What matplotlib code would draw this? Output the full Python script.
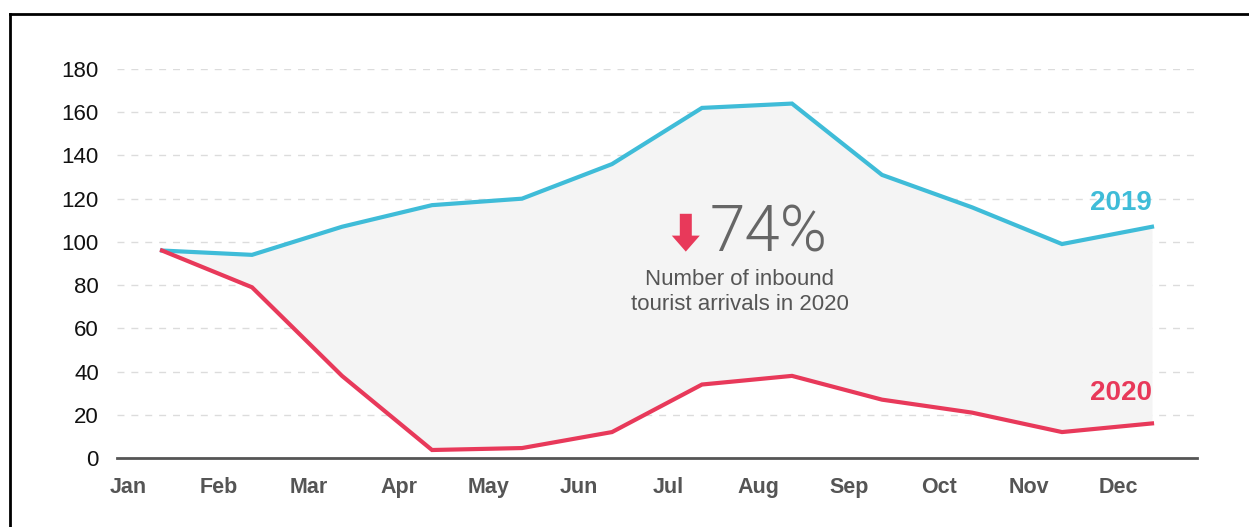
import numpy as np
import matplotlib.pyplot as plt
from matplotlib.lines import Line2D

# Monthly inbound tourist arrivals (index values)
months = ['Jan', 'Feb', 'Mar', 'Apr', 'May', 'Jun',
          'Jul', 'Aug', 'Sep', 'Oct', 'Nov', 'Dec']
arrivals_2019 = [96, 94, 107, 117, 120, 136, 162, 164, 131, 116, 99, 107]
arrivals_2020 = [96, 79, 38, 3.7, 4.6, 12, 34, 38, 27, 21, 12, 16]
y_ticks = [0, 20, 40, 60, 80, 100, 120, 140, 160, 180]
drop_pct = 74

blue = '#3fbcd8'
red = '#e8395a'
grey_text = '#555555'

plt.rcParams['font.family'] = ['Liberation Sans', 'DejaVu Sans']

fig = plt.figure(figsize=(12.49, 5.27), dpi=100)
ax = fig.add_axes([117 / 1249, 69 / 527, 1080 / 1249, 389 / 527])

x = np.arange(len(months))

ax.fill_between(x, arrivals_2020, arrivals_2019, color='#f4f4f4', lw=0, zorder=1)
ax.plot(x, arrivals_2019, color=blue, lw=3, solid_joinstyle='miter', zorder=3, clip_on=False)
ax.plot(x, arrivals_2020, color=red, lw=3, solid_joinstyle='miter', zorder=3, clip_on=False)

ax.set_xlim(-0.5, 11.5)
ax.set_ylim(0, 180)

# dashed horizontal gridlines
for v in y_ticks[1:]:
    ax.axhline(v, color='#dcdcdc', lw=1, ls=(0, (5, 5)), zorder=0)

ax.set_yticks(y_ticks)
ax.set_yticklabels([str(v) for v in y_ticks], fontsize=16, color='#111111')
ax.set_xticks(x - 0.37)
ax.set_xticklabels(months, fontsize=15.5, color=grey_text, fontweight='bold')
ax.tick_params(axis='both', length=0)
ax.tick_params(axis='y', pad=13)
ax.tick_params(axis='x', pad=14)

for side in ['top', 'right', 'left']:
    ax.spines[side].set_visible(False)
ax.spines['bottom'].set_color('#555555')
ax.spines['bottom'].set_linewidth(2)
ax.spines['bottom'].set_zorder(4)

# series labels at the line ends
ax.text(x[-1], arrivals_2019[-1] + 5, '2019', color=blue, fontsize=20,
        fontweight='bold', ha='right', va='bottom')
ax.text(x[-1], arrivals_2020[-1] + 8, '2020', color=red, fontsize=20,
        fontweight='bold', ha='right', va='bottom')

# callout for the yearly drop
ax.annotate('', xy=(5.82, 95.5), xytext=(5.82, 113),
            arrowprops=dict(arrowstyle='simple,head_width=1.4,head_length=0.8,tail_width=0.6',
                            mutation_scale=14.4, color=red, lw=0, shrinkA=0, shrinkB=0))
ax.text(6.09, 104, f'{drop_pct}%', fontsize=46, color='#666666', ha='left', va='center',
        family=['Roboto', 'DejaVu Sans'], fontweight=300)
ax.text(6.42, 77, 'Number of inbound\ntourist arrivals in 2020', fontsize=16,
        color=grey_text, ha='center', va='center', linespacing=1.25)

# frame lines along the top and left edges
fig.add_artist(Line2D([9.5 / 1249, 1.0], [1 - 14 / 527, 1 - 14 / 527],
                      transform=fig.transFigure, color='black', lw=2))
fig.add_artist(Line2D([9.5 / 1249, 9.5 / 1249], [0, 1 - 14 / 527],
                      transform=fig.transFigure, color='black', lw=2))

fig.savefig('out.png', dpi=100)
